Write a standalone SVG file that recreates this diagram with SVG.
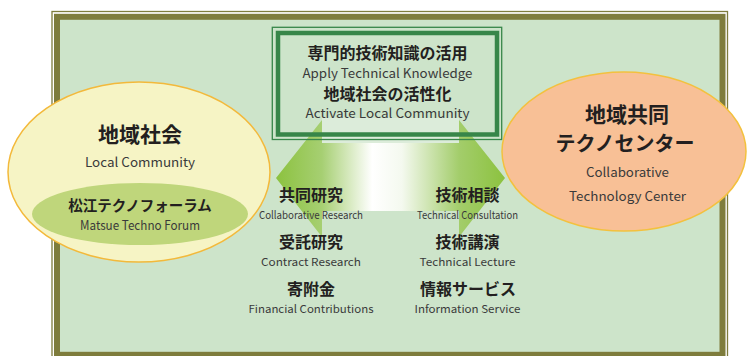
<svg xmlns="http://www.w3.org/2000/svg" width="747" height="356" viewBox="0 0 747 356">
<defs>
<style>
.jp{font-family:"Noto Sans CJK JP","Noto Sans",sans-serif;font-weight:bold;fill:#231f20;text-anchor:middle}
.en{font-family:"Noto Sans CJK JP","Noto Sans",sans-serif;fill:#3a3a3a;text-anchor:middle}
.olive{fill:none;stroke:#7e7c3c}
.grn{fill:none;stroke:#378649}
</style>
<linearGradient id="arrowGrad" gradientUnits="userSpaceOnUse" x1="276" y1="0" x2="505" y2="0">
<stop offset="0" stop-color="#8cc23f"/>
<stop offset="0.2" stop-color="#a6cf72"/>
<stop offset="0.42" stop-color="#ffffff"/>
<stop offset="0.55" stop-color="#f4f9ef"/>
<stop offset="0.8" stop-color="#a3cd6b"/>
<stop offset="1" stop-color="#8cc23f"/>
</linearGradient>
</defs>
<g id="frame">
<rect class="olive" x="52" y="11.5" width="675.5" height="360" stroke-width="1.3"/>
<rect x="57" y="16.8" width="665.5" height="338" fill="#cde4ca" stroke="#7e7c3c" stroke-width="6"/>
</g>
<g id="connectors">
<rect x="322" y="118" width="137" height="25" fill="#ffffff" opacity="0.3"/>
<path d="M276,178 L322,120 L322,143 L459,143 L459,120 L505,178 L459,237 L459,211 L322,211 L322,237 Z" fill="url(#arrowGrad)"/>
</g>
<g id="goal">
<rect class="grn" x="272.3" y="27.3" width="229.4" height="112.2" stroke-width="1.3"/>
<rect class="grn" x="278" y="33" width="219" height="101.5" stroke-width="4.5"/>
<text class="jp" x="387.5" y="59" font-size="16">専門的技術知識の活用</text>
<text class="en" x="387.5" y="78" font-size="13" textLength="170" lengthAdjust="spacingAndGlyphs">Apply Technical Knowledge</text>
<text class="jp" x="387.5" y="99.5" font-size="16">地域社会の活性化</text>
<text class="en" x="387.5" y="117.5" font-size="13" textLength="164" lengthAdjust="spacingAndGlyphs">Activate Local Community</text>
</g>
<g id="community">
<ellipse cx="139" cy="172" rx="131" ry="90" fill="#f6f4c5" stroke="#f3b93b" stroke-width="1.5"/>
<text class="jp" x="140" y="142" font-size="21">地域社会</text>
<text class="en" x="140" y="167" font-size="13" textLength="110" lengthAdjust="spacingAndGlyphs">Local Community</text>
</g>
<g id="forum">
<ellipse cx="140" cy="214" rx="108" ry="31" fill="#bfd67b"/>
<text class="jp" x="140" y="211" font-size="14.5">松江テクノフォーラム</text>
<text class="en" x="140" y="230" font-size="12.5" textLength="120" lengthAdjust="spacingAndGlyphs">Matsue Techno Forum</text>
</g>
<g id="center">
<ellipse cx="624" cy="151.5" rx="122" ry="79.5" fill="#f8c096" stroke="#f3c13e" stroke-width="1.5"/>
<text class="jp" x="627" y="122" font-size="21">地域共同</text>
<text class="jp" x="625" y="151" font-size="20">テクノセンター</text>
<text class="en" x="627.5" y="177" font-size="13" textLength="83" lengthAdjust="spacingAndGlyphs">Collaborative</text>
<text class="en" x="627.5" y="201" font-size="13" textLength="117" lengthAdjust="spacingAndGlyphs">Technology Center</text>
</g>
<g id="left-list">
<text class="jp" x="311" y="201" font-size="16">共同研究</text>
<text class="en" x="311" y="219" font-size="11" textLength="104" lengthAdjust="spacingAndGlyphs">Collaborative Research</text>
<text class="jp" x="311" y="248" font-size="16">受託研究</text>
<text class="en" x="311" y="266" font-size="11" textLength="100" lengthAdjust="spacingAndGlyphs">Contract Research</text>
<text class="jp" x="311" y="295" font-size="16">寄附金</text>
<text class="en" x="311" y="313" font-size="11" textLength="125" lengthAdjust="spacingAndGlyphs">Financial Contributions</text>
</g>
<g id="right-list">
<text class="jp" x="467.5" y="201" font-size="16">技術相談</text>
<text class="en" x="467.5" y="219" font-size="11" textLength="101" lengthAdjust="spacingAndGlyphs">Technical Consultation</text>
<text class="jp" x="467.5" y="248" font-size="16">技術講演</text>
<text class="en" x="467.5" y="266" font-size="11" textLength="96" lengthAdjust="spacingAndGlyphs">Technical Lecture</text>
<text class="jp" x="468" y="295" font-size="16">情報サービス</text>
<text class="en" x="467.5" y="313" font-size="11" textLength="106" lengthAdjust="spacingAndGlyphs">Information Service</text>
</g>
</svg>
